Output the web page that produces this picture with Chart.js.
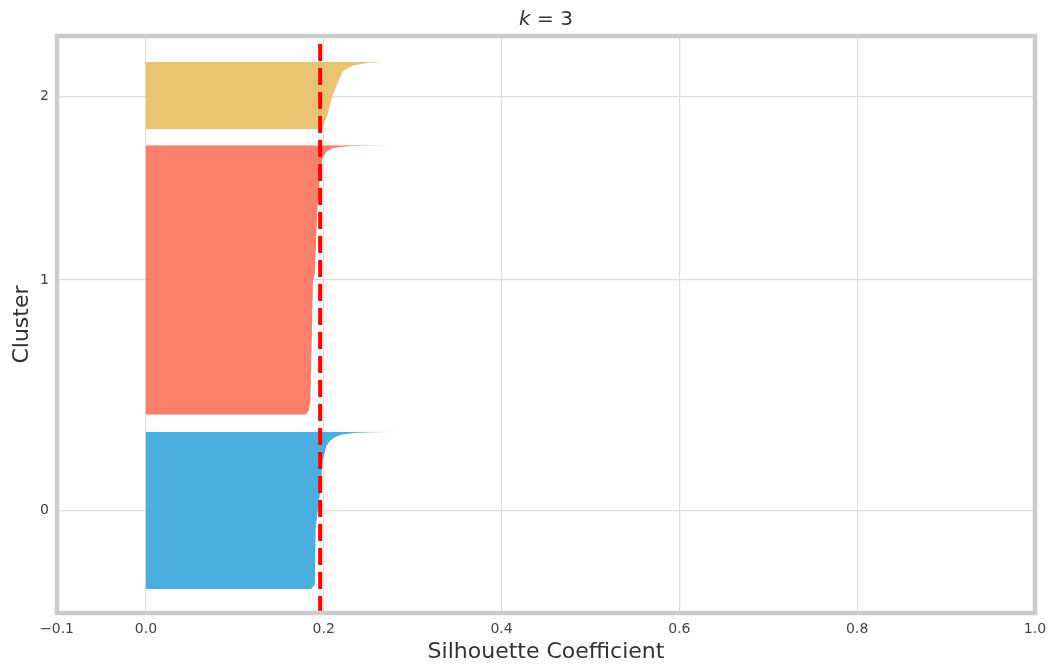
<!DOCTYPE html>
<html>
<head>
<meta charset="utf-8">
<script src="https://cdn.jsdelivr.net/npm/chart.js@4"></script>
<style>
  html, body { margin: 0; padding: 0; background: #ffffff; }
  #wrap { width: 1051px; height: 667px; }
</style>
</head>
<body>
<div id="wrap"><canvas id="silueta"></canvas></div>
<script>
// silhouette profile of each cluster (sample position / coefficient)
const cluster0Pos = [10, 12, 36, 50, 64, 69.5, 71.5, 72.5, 73.5, 74.2, 74.7, 75, 75.2, 75.4];
const cluster0Val = [0.186, 0.190, 0.191, 0.196, 0.199, 0.203, 0.207, 0.210, 0.215, 0.221, 0.229, 0.237, 0.255, 0.285];

const cluster1Pos = [82.5, 84, 88.3, 138.3, 141.3, 168.8, 182.9, 189.6, 191.7, 192.6, 193.3, 193.8, 194.2, 194.4, 194.6];
const cluster1Val = [0.180, 0.183, 0.185, 0.188, 0.190, 0.193, 0.196, 0.199, 0.203, 0.206, 0.210, 0.218, 0.232, 0.245, 0.272];

const cluster2Pos = [201.3, 204, 207, 211, 215.4, 220.8, 225, 226.2, 227, 227.8, 228.5, 228.9, 229.2];
const cluster2Val = [0.198, 0.201, 0.204, 0.207, 0.210, 0.216, 0.221, 0.225, 0.229, 0.235, 0.243, 0.252, 0.265];

const avgScore = 0.196;

const xTicks = [-0.1, 0.0, 0.2, 0.4, 0.6, 0.8, 1.0];
const xTickLabels = ['\u22120.1', '0.0', '0.2', '0.4', '0.6', '0.8', '1.0'];
const yTickPos = [42.5, 138.5, 215];
const yTickLabels = ['0', '1', '2'];

const colores = ['rgba(54,165,219,0.9)', 'rgba(250,114,92,0.9)', 'rgba(232,190,96,0.9)'];
const fuente = "'DejaVu Sans', sans-serif";

function perfil(pos, val) {
  return pos.map((p, i) => ({ x: val[i], y: p }));
}

// marco gris alrededor del área y título con k en cursiva
const marcoPlugin = {
  id: 'marco',
  afterDatasetsDraw(chart) {
    const a = chart.chartArea;
    const ctx = chart.ctx;
    ctx.save();
    ctx.strokeStyle = '#cccccc';
    ctx.lineWidth = 4.5;
    ctx.strokeRect(a.left, a.top, a.right - a.left, a.bottom - a.top);
    ctx.restore();
  },
  afterDraw(chart) {
    const a = chart.chartArea;
    const ctx = chart.ctx;
    ctx.save();
    ctx.fillStyle = '#333333';
    ctx.textBaseline = 'middle';
    const cx = (a.left + a.right) / 2;
    ctx.font = 'italic 20px ' + fuente;
    const wk = ctx.measureText('k').width;
    ctx.font = '20px ' + fuente;
    const wr = ctx.measureText(' = 3').width;
    const x0 = cx - (wk + wr) / 2;
    ctx.font = 'italic 20px ' + fuente;
    ctx.fillText('k', x0, 20);
    ctx.font = '20px ' + fuente;
    ctx.fillText(' = 3', x0 + wk, 20);
    ctx.restore();
  }
};

const ctx = document.getElementById('silueta').getContext('2d');
const siluetaChart = new Chart(ctx, {
  type: 'line',
  data: {
    datasets: [
      {
        label: 'promedio',
        data: [{ x: avgScore, y: 0 }, { x: avgScore, y: 240 }],
        borderColor: '#ff0000',
        borderWidth: 4,
        borderDash: [17, 7],
        pointRadius: 0,
        fill: false,
        order: -1,
      },
      {
        label: '0',
        data: perfil(cluster0Pos, cluster0Val),
        backgroundColor: colores[0],
        borderWidth: 0,
        pointRadius: 0,
        fill: { value: 0 },
      },
      {
        label: '1',
        data: perfil(cluster1Pos, cluster1Val),
        backgroundColor: colores[1],
        borderWidth: 0,
        pointRadius: 0,
        fill: { value: 0 },
      },
      {
        label: '2',
        data: perfil(cluster2Pos, cluster2Val),
        backgroundColor: colores[2],
        borderWidth: 0,
        pointRadius: 0,
        fill: { value: 0 },
      },
    ],
  },
  options: {
    indexAxis: 'y',
    responsive: true,
    maintainAspectRatio: false,
    animation: false,
    layout: { padding: { top: 36, right: 16, left: 0, bottom: 0 } },
    plugins: {
      legend: { display: false },
      tooltip: { enabled: false },
    },
    scales: {
      x: {
        type: 'linear',
        min: -0.1,
        max: 1.0,
        afterBuildTicks: (axis) => { axis.ticks = xTicks.map(v => ({ value: v })); },
        afterFit: (axis) => { axis.height = 54; axis.paddingLeft = 0; axis.paddingRight = 0; },
        ticks: {
          callback: (v, i) => xTickLabels[i],
          font: { family: fuente, size: 14 },
          color: '#444444',
          padding: 8,
          maxRotation: 0,
        },
        grid: { color: '#dddddd', lineWidth: 1.2, drawTicks: false },
        border: { display: false },
        title: {
          display: true,
          text: 'Silhouette Coefficient',
          font: { family: fuente, size: 22 },
          color: '#333333',
          padding: { top: 0, bottom: 2 },
        },
      },
      y: {
        type: 'linear',
        min: 0,
        max: 240,
        afterBuildTicks: (axis) => { axis.ticks = yTickPos.map(v => ({ value: v })); },
        afterFit: (axis) => { axis.width = 57; },
        ticks: {
          callback: (v, i) => yTickLabels[i],
          font: { family: fuente, size: 14 },
          color: '#444444',
          padding: 8,
        },
        grid: { color: '#dddddd', lineWidth: 1.2, drawTicks: false },
        border: { display: false },
        title: {
          display: true,
          text: 'Cluster',
          font: { family: fuente, size: 22 },
          color: '#333333',
          padding: { top: 9, bottom: 0 },
        },
      },
    },
  },
  plugins: [marcoPlugin],
});
</script>
</body>
</html>
